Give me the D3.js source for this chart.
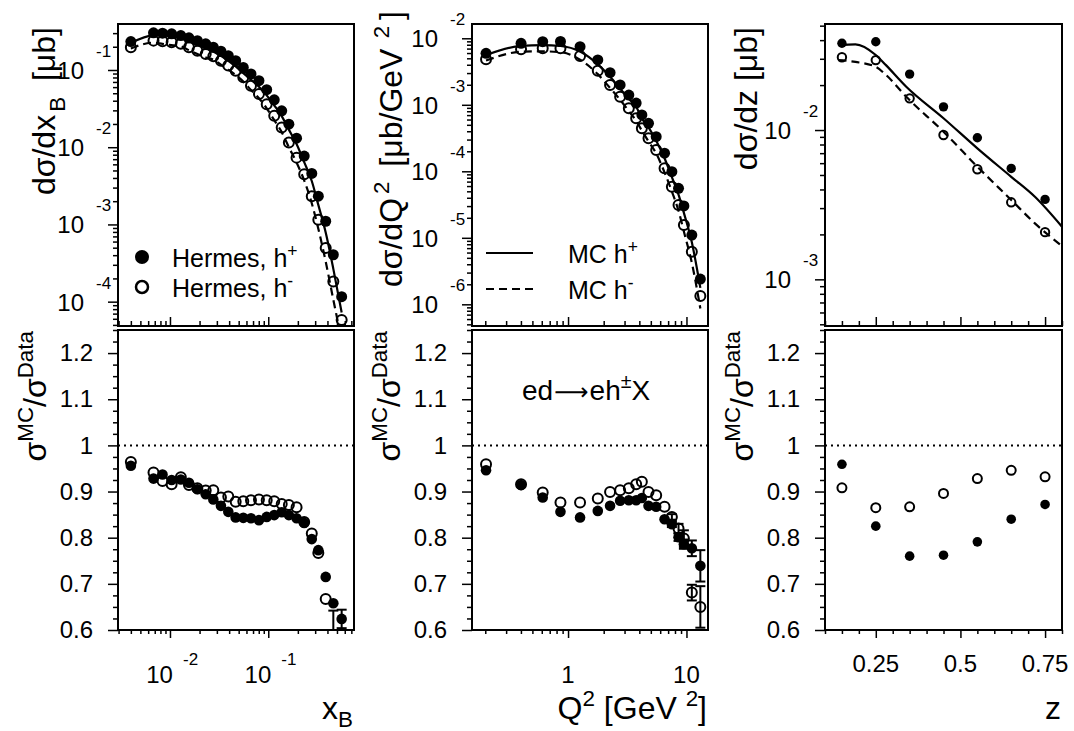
<!DOCTYPE html>
<html>
<head>
<meta charset="utf-8">
<script src="https://cdn.jsdelivr.net/npm/d3@7"></script>
<style>
  body { margin: 0; background: #fff; }
  text { font-family: "Liberation Sans", Arial, sans-serif; fill: #000; white-space: pre; }
</style>
</head>
<body>
<script>
// ---- x_B panel ----
const xbBins = [0.0040, 0.0068, 0.0084, 0.0104, 0.0129, 0.0156, 0.0190, 0.0231, 0.0276, 0.0330, 0.0392, 0.0466, 0.0557,
  0.0667, 0.0804, 0.0964, 0.115, 0.137, 0.162, 0.194, 0.232, 0.277, 0.323, 0.384, 0.459, 0.558];
const xbDataPos = [0.233, 0.303, 0.300, 0.294, 0.279, 0.261, 0.240, 0.218, 0.197, 0.175, 0.153, 0.132, 0.108,
  0.0887, 0.0726, 0.0555, 0.0411, 0.0296, 0.0199, 0.0131, 0.00769, 0.00458, 0.00232, 0.00110, 0.000405, 0.000116];
const xbDataNeg = [0.197, 0.240, 0.236, 0.229, 0.218, 0.197, 0.178, 0.161, 0.151, 0.132, 0.114, 0.098, 0.0804,
  0.0625, 0.0488, 0.0361, 0.0255, 0.0180, 0.0115, 0.00733, 0.00445, 0.00232, 0.00115, 0.000494, 0.000182, 0.0000578];
const xbMcPos = [0.223, 0.281, 0.281, 0.272, 0.258, 0.240, 0.217, 0.195, 0.174, 0.152, 0.131, 0.111, 0.0910,
  0.0747, 0.0608, 0.0469, 0.0349, 0.0253, 0.0169, 0.0110, 0.00640, 0.00365, 0.00179, 0.000787, 0.000266, 0.0000724];
const xbMcNeg = [0.190, 0.226, 0.218, 0.210, 0.203, 0.180, 0.161, 0.145, 0.136, 0.117, 0.101, 0.0860, 0.0707,
  0.0551, 0.0431, 0.0318, 0.0224, 0.0157, 0.0100, 0.00635, 0.00371, 0.00188, 0.000882, 0.000330, 0.000106, 0.0000318];
const xbRatioPos = [0.956, 0.928, 0.937, 0.925, 0.926, 0.919, 0.905, 0.894, 0.883, 0.869, 0.856, 0.844, 0.843,
  0.842, 0.838, 0.845, 0.849, 0.855, 0.849, 0.842, 0.832, 0.797, 0.773, 0.715, 0.658, 0.624];
const xbRatioNeg = [0.964, 0.941, 0.923, 0.916, 0.931, 0.914, 0.907, 0.902, 0.903, 0.887, 0.889, 0.878, 0.879,
  0.881, 0.883, 0.881, 0.879, 0.873, 0.871, 0.866, 0.834, 0.809, 0.767, 0.667, 0.585, null];
const xbErrPos = [0, 0, 0, 0, 0, 0, 0, 0, 0, 0, 0, 0, 0, 0, 0, 0, 0, 0, 0, 0, 0, 0, 0, 0, 0, 0.020];
const xbErrNeg = [0, 0, 0, 0, 0, 0, 0, 0, 0, 0, 0, 0, 0, 0, 0, 0, 0, 0, 0, 0, 0, 0, 0, 0, 0.057, 0];

// ---- Q2 panel ----
const q2Bins = [0.203, 0.401, 0.611, 0.863, 1.263, 1.783, 2.264, 2.753, 3.26, 3.76, 4.20, 4.78, 5.55, 6.53,
  7.53, 8.57, 9.51, 11.1, 13.1];
const q2DataPos = [5.94e-3, 8.41e-3, 8.89e-3, 8.95e-3, 7.48e-3, 4.72e-3, 3.04e-3, 1.99e-3, 1.40e-3, 1.06e-3,
  7.03e-4, 5.27e-4, 3.31e-4, 1.87e-4, 9.87e-5, 5.55e-5, 3.01e-5, 1.10e-5, 2.40e-6];
const q2DataNeg = [4.83e-3, 6.84e-3, 7.08e-3, 7.08e-3, 5.42e-3, 3.26e-3, 1.99e-3, 1.32e-3, 8.86e-4, 6.26e-4,
  4.43e-4, 3.13e-4, 2.09e-4, 1.11e-4, 5.87e-5, 3.11e-5, 1.56e-5, 6.18e-6, 1.33e-6];
const q2McPos = [5.62e-3, 7.69e-3, 7.89e-3, 7.66e-3, 6.31e-3, 4.05e-3, 2.64e-3, 1.75e-3, 1.23e-3, 9.34e-4,
  6.23e-4, 4.58e-4, 2.87e-4, 1.57e-4, 8.18e-5, 4.45e-5, 2.37e-5, 8.55e-6, 1.77e-6];
const q2McNeg = [4.63e-3, 6.27e-3, 6.36e-3, 6.20e-3, 4.75e-3, 2.89e-3, 1.79e-3, 1.19e-3, 8.04e-4, 5.73e-4,
  4.08e-4, 2.81e-4, 1.86e-4, 9.62e-5, 4.96e-5, 2.55e-5, 1.24e-5, 4.21e-6, 8.65e-7];
const q2RatioPos = [0.946, 0.914, 0.887, 0.856, 0.844, 0.858, 0.869, 0.880, 0.881, 0.881, 0.886, 0.869, 0.867,
  0.840, 0.829, 0.801, 0.786, 0.777, 0.739];
const q2RatioNeg = [0.959, 0.916, 0.898, 0.876, 0.876, 0.885, 0.899, 0.903, 0.907, 0.916, 0.921, 0.899, 0.892,
  0.867, 0.845, 0.820, 0.798, 0.681, 0.650];
const q2ErrPos = [0, 0, 0, 0, 0, 0, 0, 0, 0, 0, 0, 0, 0, 0, 0.006, 0.008, 0.010, 0.017, 0.034];
const q2ErrNeg = [0, 0, 0, 0, 0, 0, 0, 0, 0, 0, 0, 0, 0, 0, 0.006, 0.010, 0.018, 0.017, 0.045];

// ---- z panel ----
const zBins = [0.15, 0.25, 0.35, 0.45, 0.55, 0.65, 0.75];
const zDataPos = [0.0381, 0.0390, 0.0237, 0.0143, 0.00888, 0.00553, 0.00343];
const zDataNeg = [0.0307, 0.0294, 0.0163, 0.00926, 0.00546, 0.00328, 0.00207];
const zCurveX = [0.14, 0.19, 0.25, 0.28, 0.34, 0.45, 0.55, 0.65, 0.72, 0.80];
const zMcPos = [0.0371, 0.0375, 0.0318, 0.0272, 0.0195, 0.0120, 0.00754, 0.00486, 0.00357, 0.00225];
const zMcNeg = [0.0294, 0.0286, 0.0265, 0.0234, 0.0167, 0.00974, 0.00568, 0.00340, 0.00237, 0.00167];
const zRatioPos = [0.959, 0.825, 0.760, 0.762, 0.791, 0.840, 0.872];
const zRatioNeg = [0.908, 0.865, 0.867, 0.896, 0.928, 0.946, 0.932];

const ratioMajor = [0.6, 0.7, 0.8, 0.9, 1.0, 1.1, 1.2];
const zMajor = [0.25, 0.5, 0.75];

const svg = d3.select("body").append("svg")
  .attr("width", 1074)
  .attr("height", 731);

const topY = [24, 326], botY = [330, 630];
const yRatio = d3.scaleLinear().domain([0.6, 1.25]).range([botY[1], botY[0]]);

// parts: [text, kind, extra gap before, font family]
const panels = [
  {
    x: d3.scaleLog().domain([0.00296, 0.745]).range([118, 354]),
    y: d3.scaleLog().domain([4.84e-5, 0.394]).range([topY[1], topY[0]]),
    bins: xbBins, dPos: xbDataPos, dNeg: xbDataNeg,
    cx: xbBins, mPos: xbMcPos, mNeg: xbMcNeg,
    rPos: xbRatioPos, rNeg: xbRatioNeg, ePos: xbErrPos, eNeg: xbErrNeg,
    r: 5, rr: 5, log: true, titleX: 55, titleEnd: 27,
    yTitle: [["dσ/dx", "n"], ["B", "sub", 3], [" [μb]", "n", 7]],
    xTitle: [["x", "n"], ["B", "sub"]]
  },
  {
    x: d3.scaleLog().domain([0.1545, 15.2]).range([472, 708]),
    y: d3.scaleLog().domain([4.72e-7, 0.0164]).range([topY[1], topY[0]]),
    bins: q2Bins, dPos: q2DataPos, dNeg: q2DataNeg,
    cx: q2Bins, mPos: q2McPos, mNeg: q2McNeg,
    rPos: q2RatioPos, rNeg: q2RatioNeg, ePos: q2ErrPos, eNeg: q2ErrNeg,
    r: 5, rr: 5, log: true, titleX: 402, titleEnd: 11,
    yTitle: [["dσ/dQ", "n"], ["2", "sup", 4], [" [μb/GeV", "n", 6], [" 2", "sup", 4], ["]", "n", 6]],
    xTitle: [["Q", "n"], ["2", "sup"], [" [GeV ", "n"], ["2", "sup"], ["]", "n"]]
  },
  {
    x: d3.scaleLinear().domain([0.1, 0.8]).range([825, 1062]),
    y: d3.scaleLog().domain([4.87e-4, 0.0513]).range([topY[1], topY[0]]),
    bins: zBins, dPos: zDataPos, dNeg: zDataNeg,
    cx: zCurveX, mPos: zMcPos, mNeg: zMcNeg,
    rPos: zRatioPos, rNeg: zRatioNeg, ePos: null, eNeg: null,
    r: 4.2, rr: 4.5, log: false, titleX: 757, titleEnd: 27,
    yTitle: [["dσ/dz [μb]", "n"]],
    xTitle: [["z", "n"]]
  }
];

function rich(sel, parts, size, subShift = 0.3) {
  let shift = 0;
  parts.forEach(([s, k, gap, fam, fs]) => {
    const target = k === "sup" ? -0.42 * size : k === "sub" ? subShift * size : 0;
    const t = sel.append("tspan")
      .attr("dy", target - shift)
      .attr("font-size", fs || (k === "n" ? size : size * 0.7))
      .text(s);
    if (gap) t.attr("dx", gap);
    if (fam) t.attr("font-family", fam);
    shift = target;
  });
  return sel;
}

function logTicks(domain) {
  const out = [];
  const lo = Math.floor(Math.log10(domain[0])), hi = Math.ceil(Math.log10(domain[1]));
  for (let k = lo; k <= hi; k++) {
    for (let m = 1; m <= 9; m++) {
      const v = +(m * Math.pow(10, k)).toPrecision(6);
      if (v >= domain[0] && v <= domain[1]) out.push({ v, major: m === 1, k });
    }
  }
  return out;
}

function styleAxis(g) {
  g.select(".domain").remove();
  g.selectAll(".tick line").attr("stroke", "#000").attr("stroke-width", 1.5);
  g.selectAll(".tick text").attr("font-size", 24).attr("fill", "#000")
    .attr("font-family", "Liberation Sans, Arial, sans-serif");
}

panels.forEach((p, i) => {
  const [x0, x1] = p.x.range();
  const id = "p" + i;

  // clip regions
  svg.append("clipPath").attr("id", id + "t")
    .append("rect").attr("x", x0).attr("y", topY[0]).attr("width", x1 - x0).attr("height", topY[1] - topY[0]);
  svg.append("clipPath").attr("id", id + "b")
    .append("rect").attr("x", x0).attr("y", botY[0]).attr("width", x1 - x0).attr("height", botY[1] - botY[0]);

  // x ticks
  const xt = p.log ? logTicks(p.x.domain())
    : d3.range(0, 15).map(j => +(0.1 + j * 0.05).toFixed(2)).map(v => ({ v, major: zMajor.includes(v) }));
  const xMinor = xt.filter(t => !t.major).map(t => t.v);
  const xMajor = xt.filter(t => t.major).map(t => t.v);

  [[d3.axisTop, topY[1], 5, 9], [d3.axisBottom, botY[1], 4, 8]].forEach(([ax, yy, sMin, sMaj]) => {
    svg.append("g").attr("transform", `translate(0,${yy})`)
      .call(ax(p.x).tickValues(xMinor).tickSize(sMin).tickFormat("")).call(styleAxis);
    svg.append("g").attr("transform", `translate(0,${yy})`)
      .call(ax(p.x).tickValues(xMajor).tickSize(sMaj).tickFormat("")).call(styleAxis);
  });

  // x tick labels under the ratio panel
  const xl = svg.append("g").attr("font-size", 24);
  xMajor.forEach(v => {
    const px = p.x(v);
    if (i === 0) {
      xl.append("text").attr("x", px + 3).attr("y", 683).attr("text-anchor", "end").text("10");
      xl.append("text").attr("x", px + 13).attr("y", 665).attr("font-size", 17)
        .text(String(Math.round(Math.log10(v))));
    } else if (i === 1) {
      xl.append("text").attr("x", px).attr("y", 683).attr("text-anchor", "middle").text(d3.format("~g")(v));
    } else {
      xl.append("text").attr("x", px).attr("y", 672).attr("text-anchor", "middle").text(String(v));
    }
  });

  // log y axis of top panel
  const yt = logTicks(p.y.domain());
  const yl = svg.append("g").attr("transform", `translate(${x0},0)`);
  yl.append("g").call(d3.axisLeft(p.y).tickValues(yt.filter(t => !t.major).map(t => t.v)).tickSize(5).tickFormat("")).call(styleAxis);
  yl.append("g").call(d3.axisLeft(p.y).tickValues(yt.filter(t => t.major).map(t => t.v)).tickSize(10).tickFormat("")).call(styleAxis);
  yt.filter(t => t.major).forEach(t => {
    const py = p.y(t.v);
    yl.append("text").attr("x", -34).attr("y", py + 9).attr("text-anchor", "end").attr("font-size", 24).text("10");
    yl.append("text").attr("x", -22).attr("y", py - 13).attr("font-size", 17).text(String(t.k));
  });

  // ratio y axis
  const rMinor = d3.range(0, 27).map(j => +(0.6 + j * 0.025).toFixed(3)).filter(v => !ratioMajor.includes(v));
  const rl = svg.append("g").attr("transform", `translate(${x0},0)`);
  rl.append("g").call(d3.axisLeft(yRatio).tickValues(rMinor).tickSize(5).tickFormat("")).call(styleAxis);
  rl.append("g").call(d3.axisLeft(yRatio).tickValues(ratioMajor).tickSize(10).tickPadding(15)
    .tickFormat(d => d === 1 ? "1" : d.toFixed(1))).call(styleAxis);

  // y titles
  svg.append("text").attr("transform", `translate(${p.titleX},${p.titleEnd}) rotate(-90)`)
    .attr("text-anchor", "end").call(rich, p.yTitle, 32);
  svg.append("text").attr("transform", `translate(${x0 - 72},331) rotate(-90)`)
    .attr("text-anchor", "end").call(rich, [["σ", "n"], ["MC", "sup"], ["/σ", "n"], ["Data", "sup"]], 32);

  // x title
  svg.append("text").attr("x", x1 - 1).attr("y", 719).attr("text-anchor", "end").call(rich, p.xTitle, 32, 0.24);

  // top panel content
  const top = svg.append("g").attr("clip-path", `url(#${id}t)`);
  const line = d3.line().x(d => p.x(d[0])).y(d => p.y(d[1])).curve(d3.curveMonotoneX);
  top.append("path").datum(p.cx.map((c, j) => [c, p.mPos[j]]))
    .attr("d", line).attr("fill", "none").attr("stroke", "#000").attr("stroke-width", 2.2);
  top.append("path").datum(p.cx.map((c, j) => [c, p.mNeg[j]]))
    .attr("d", line).attr("fill", "none").attr("stroke", "#000").attr("stroke-width", 2.2)
    .attr("stroke-dasharray", "8,5");
  top.selectAll(".on").data(p.bins.map((b, j) => [b, p.dNeg[j]])).join("circle")
    .attr("cx", d => p.x(d[0])).attr("cy", d => p.y(d[1])).attr("r", p.r)
    .attr("fill", "none").attr("stroke", "#000").attr("stroke-width", 2);
  top.selectAll(".fp").data(p.bins.map((b, j) => [b, p.dPos[j]])).join("circle")
    .attr("cx", d => p.x(d[0])).attr("cy", d => p.y(d[1])).attr("r", p.r + 0.5).attr("fill", "#000");

  // ratio panel content
  const bot = svg.append("g").attr("clip-path", `url(#${id}b)`);
  bot.append("line").attr("x1", x0).attr("x2", x1).attr("y1", yRatio(1)).attr("y2", yRatio(1))
    .attr("stroke", "#000").attr("stroke-width", 2).attr("stroke-dasharray", "2,4");
  const errs = [];
  if (p.ePos) {
    p.bins.forEach((b, j) => {
      if (p.ePos[j] > 0 && p.rPos[j] != null) errs.push([b, p.rPos[j], p.ePos[j]]);
      if (p.eNeg[j] > 0 && p.rNeg[j] != null) errs.push([b, p.rNeg[j], p.eNeg[j]]);
    });
  }
  const eb = bot.selectAll(".eb").data(errs).join("g").attr("stroke", "#000").attr("stroke-width", 2);
  eb.append("line").attr("x1", d => p.x(d[0])).attr("x2", d => p.x(d[0]))
    .attr("y1", d => yRatio(d[1] - d[2])).attr("y2", d => yRatio(d[1] + d[2]));
  [-1, 1].forEach(s => {
    eb.append("line").attr("x1", d => p.x(d[0]) - 5).attr("x2", d => p.x(d[0]) + 5)
      .attr("y1", d => yRatio(d[1] + s * d[2])).attr("y2", d => yRatio(d[1] + s * d[2]));
  });
  bot.selectAll(".ron").data(p.bins.map((b, j) => [b, p.rNeg[j]]).filter(d => d[1] != null)).join("circle")
    .attr("cx", d => p.x(d[0])).attr("cy", d => yRatio(d[1])).attr("r", p.rr)
    .attr("fill", "none").attr("stroke", "#000").attr("stroke-width", 2);
  bot.selectAll(".rfp").data(p.bins.map((b, j) => [b, p.rPos[j]])).join("circle")
    .attr("cx", d => p.x(d[0])).attr("cy", d => yRatio(d[1])).attr("r", p.rr + 0.3).attr("fill", "#000");

  // frames
  [topY, botY].forEach(([ya, yb]) => {
    svg.append("rect").attr("x", x0).attr("y", ya).attr("width", x1 - x0).attr("height", yb - ya)
      .attr("fill", "none").attr("stroke", "#000").attr("stroke-width", 2);
  });
});

// legends
const leg1 = svg.append("g");
leg1.append("circle").attr("cx", 142).attr("cy", 257).attr("r", 7).attr("fill", "#000");
leg1.append("circle").attr("cx", 142).attr("cy", 287).attr("r", 6).attr("fill", "none")
  .attr("stroke", "#000").attr("stroke-width", 2.5);
leg1.append("text").attr("x", 172).attr("y", 267).call(rich, [["Hermes, h", "n"], ["+", "sup"]], 25);
leg1.append("text").attr("x", 172).attr("y", 297).call(rich, [["Hermes, h", "n"], ["-", "sup"]], 25);

const leg2 = svg.append("g");
leg2.append("line").attr("x1", 486).attr("x2", 533).attr("y1", 253).attr("y2", 253)
  .attr("stroke", "#000").attr("stroke-width", 2.2);
leg2.append("line").attr("x1", 486).attr("x2", 533).attr("y1", 289).attr("y2", 289)
  .attr("stroke", "#000").attr("stroke-width", 2.2).attr("stroke-dasharray", "8,5");
leg2.append("text").attr("x", 568).attr("y", 263).call(rich, [["MC h", "n"], ["+", "sup"]], 25);
leg2.append("text").attr("x", 568).attr("y", 299).call(rich, [["MC h", "n"], ["-", "sup"]], 25);

svg.append("text").attr("x", 522).attr("y", 400)
  .call(rich, [["ed", "n"], ["⟶", "n", 1, "DejaVu Sans", 24], ["eh", "n", 1], ["±", "sup"], ["X", "n"]], 28);
</script>
</body>
</html>
